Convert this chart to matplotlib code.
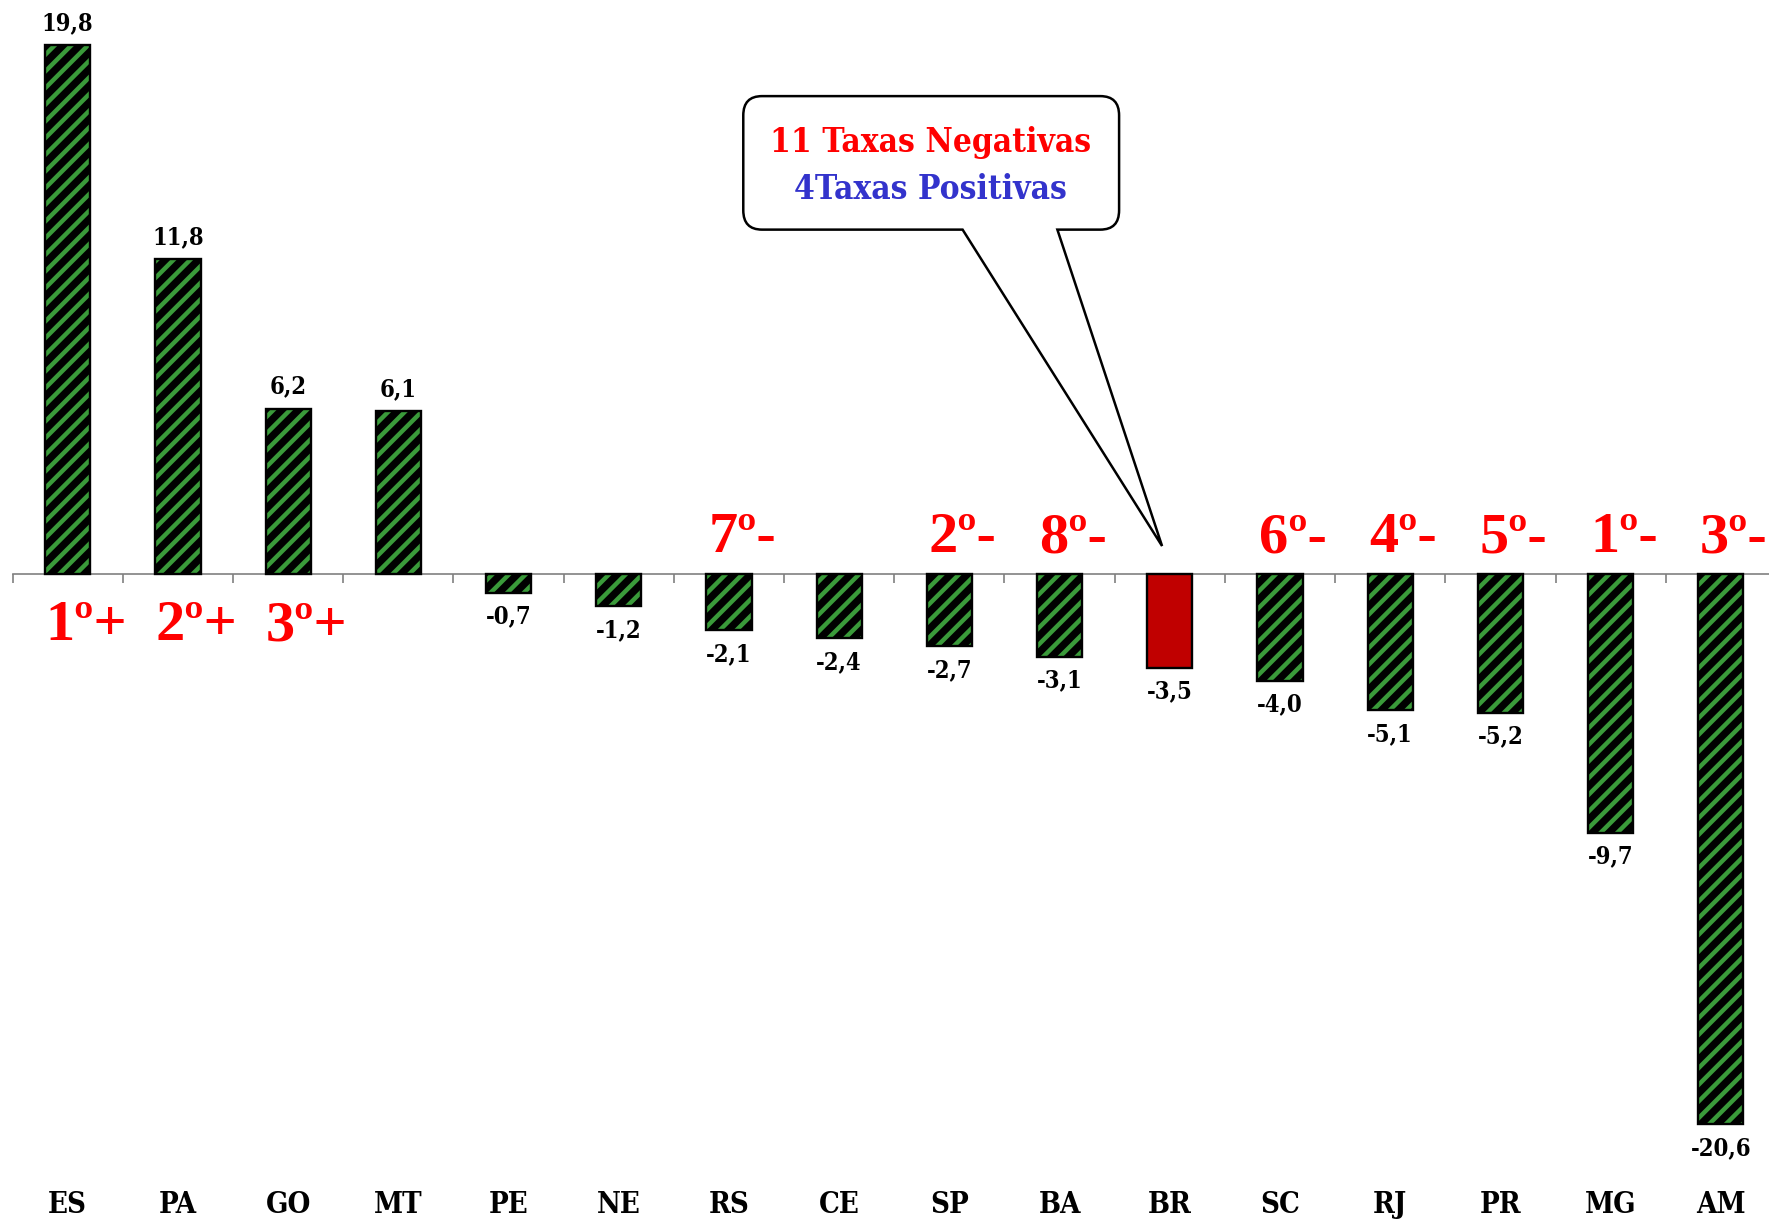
import matplotlib
matplotlib.use("Agg")

import matplotlib.pyplot as plt
import numpy as np
from matplotlib.path import Path
from matplotlib.patches import PathPatch


CATEGORIES = ["ES", "PA", "GO", "MT", "PE", "NE", "RS", "CE", "SP", "BA",
              "BR", "SC", "RJ", "PR", "MG", "AM"]
VALUES = [19.8, 11.8, 6.2, 6.1, -0.7, -1.2, -2.1, -2.4, -2.7, -3.1,
          -3.5, -4.0, -5.1, -5.2, -9.7, -20.6]
RANKS = ["1º+", "2º+", "3º+", "", "", "", "7º-", "", "2º-", "8º-",
         "", "6º-", "4º-", "5º-", "1º-", "3º-"]
HIGHLIGHT = "BR"
CALLOUT_LINES = ["11 Taxas Negativas", "4Taxas Positivas"]

GREEN = "#3a9a3a"
RED_BAR = "#c00000"
RANK_RED = "#ff0000"
BLUE = "#3333cc"
AXIS_GREY = "#808080"
BAR_WIDTH = 0.41
SERIF = "DejaVu Serif"
TIMES = "Liberation Serif"

plt.rcParams["hatch.linewidth"] = 3.2


def fmt(v):
    return f"{v:.1f}".replace(".", ",")


def callout_path(bx0, bx1, by0, by1, rx, ry, base0, base1, tip):
    verts = [
        (bx0 + rx, by0), (base0, by0), tip, (base1, by0), (bx1 - rx, by0),
        (bx1, by0), (bx1, by0 + ry),
        (bx1, by1 - ry),
        (bx1, by1), (bx1 - rx, by1),
        (bx0 + rx, by1),
        (bx0, by1), (bx0, by1 - ry),
        (bx0, by0 + ry),
        (bx0, by0), (bx0 + rx, by0),
        (bx0 + rx, by0),
    ]
    codes = [Path.MOVETO, Path.LINETO, Path.LINETO, Path.LINETO, Path.LINETO,
             Path.CURVE3, Path.CURVE3,
             Path.LINETO,
             Path.CURVE3, Path.CURVE3,
             Path.LINETO,
             Path.CURVE3, Path.CURVE3,
             Path.LINETO,
             Path.CURVE3, Path.CURVE3,
             Path.CLOSEPOLY]
    return Path(verts, codes)


fig = plt.figure(figsize=(17.69, 12.19), dpi=100)
ax = fig.add_axes([0.00712, 0.0034, 0.9968, 0.9966])

x = np.arange(len(CATEGORIES))
vals = np.array(VALUES)
is_hi = np.array([c == HIGHLIGHT for c in CATEGORIES])

# patterned bars: black with green diagonal stripes
ax.bar(x[~is_hi], vals[~is_hi], width=BAR_WIDTH, color="black",
       edgecolor=GREEN, hatch="//", linewidth=0, zorder=2)
ax.bar(x[is_hi], vals[is_hi], width=BAR_WIDTH, color=RED_BAR,
       linewidth=0, zorder=2)
ax.bar(x, vals, width=BAR_WIDTH, fill=False, edgecolor="black",
       linewidth=1.7, zorder=3)

ax.set_xlim(-0.5, 15.5)
ax.set_ylim(-24, 21.5)

for s in ["top", "right", "left"]:
    ax.spines[s].set_visible(False)
ax.spines["bottom"].set_position(("data", 0))
ax.spines["bottom"].set_color(AXIS_GREY)
ax.spines["bottom"].set_linewidth(1.2)
ax.spines["bottom"].set_zorder(1)
ax.set_yticks([])
ax.set_xticks([])
ax.set_xticks(np.arange(-0.5, 16.0, 1.0), minor=True)
ax.tick_params(axis="x", which="minor", direction="out", length=6.5,
               width=1.2, color=AXIS_GREY, labelbottom=False)

# value labels
for xi, v in zip(x, vals):
    off = 16 if v >= 0 else -17
    ax.annotate(fmt(v), (xi, v), xytext=(0, off), textcoords="offset points",
                ha="center", va="center", fontsize=17, fontweight="bold",
                family=SERIF, fontstretch="condensed", color="black")

# category labels along the bottom
for xi, c in zip(x, CATEGORIES):
    ax.text(xi, -23.6, c, ha="center", va="center", fontsize=21,
            fontweight="bold", family=SERIF, fontstretch="condensed",
            clip_on=False)

# ranking labels
for xi, v, r in zip(x, vals, RANKS):
    if not r:
        continue
    if v > 0:
        xpos, ypos = xi + 0.17, -1.95
    else:
        xpos, ypos = xi + 0.12, 1.35
    ax.text(xpos, ypos, r, ha="center", va="center", fontsize=42,
            fontweight="bold", family=TIMES, color=RANK_RED)

# speech-bubble callout
bubble = callout_path(6.13, 9.54, 12.9, 17.9, 0.17, 0.72,
                      8.12, 8.98, (9.93, 1.05))
ax.add_patch(PathPatch(bubble, facecolor="white", edgecolor="black",
                       linewidth=1.8, zorder=4))
ax.text(7.83, 16.15, CALLOUT_LINES[0], ha="center", va="center",
        fontsize=24, fontweight="bold", family=SERIF, fontstretch="condensed",
        color=RANK_RED, zorder=5)
ax.text(7.83, 14.4, CALLOUT_LINES[1], ha="center", va="center",
        fontsize=24, fontweight="bold", family=SERIF, fontstretch="condensed",
        color=BLUE, zorder=5)

fig.savefig("out.png", dpi=100)
